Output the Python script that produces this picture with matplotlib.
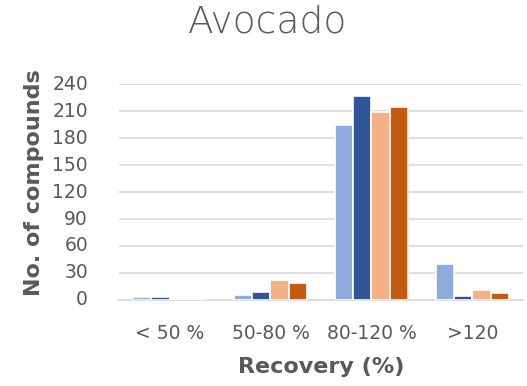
import matplotlib
matplotlib.use("Agg")
import matplotlib.pyplot as plt
import numpy as np

categories = ["< 50 %", "50-80 %", "80-120 %", ">120"]
series_a = [3, 5, 195, 40]
series_b = [3, 9, 227, 4]
series_c = [1, 22, 209, 11]
series_d = [1, 19, 215, 8]
yticks = [0, 30, 60, 90, 120, 150, 180, 210, 240]

colors = ["#8FAADC", "#2F5597", "#F4B183", "#C55A11"]
text_color = "#595959"
plt.rcParams['font.family'] = ['DejaVu Sans']

fig = plt.figure(figsize=(5.27, 3.86), dpi=100)
ax = fig.add_axes([0.226, 0.223, 0.766, 0.559])

x = np.arange(len(categories))
step = 0.182
for i, (vals, c) in enumerate(zip([series_a, series_b, series_c, series_d], colors)):
    ax.bar(x + (i - 1.5) * step, vals, width=step, color=c,
           edgecolor="white", linewidth=1.2, zorder=3)

ax.set_xlim(-0.5, len(categories) - 0.5)
ax.set_ylim(0, 240)
ax.set_yticks(yticks)
ax.set_yticklabels([])
ax.set_xticks(x)
ax.set_xticklabels(categories)
ax.yaxis.grid(True, color="#d9d9d9", linewidth=1.2, zorder=0)
for s in ["top", "right", "left"]:
    ax.spines[s].set_visible(False)
ax.spines["bottom"].set_color("#d9d9d9")
ax.spines["bottom"].set_linewidth(1.2)
ax.xaxis.set_tick_params(length=0, pad=17, labelsize=13.5, labelcolor=text_color)
ax.yaxis.set_tick_params(length=0)

# value labels for the y axis, set well apart from the plot area
ytrans = ax.get_yaxis_transform()
for v in yticks:
    ax.text(-0.077, v, str(v), transform=ytrans, ha="right", va="center",
            fontsize=13.5, color=text_color, clip_on=False)

fig.text(321 / 527, 1 - 367 / 386, "Recovery (%)", ha="center", va="center",
         fontsize=16, fontweight="bold", color=text_color)
fig.text(34 / 527, 1 - 182.5 / 386, "No. of compounds", ha="center", va="center",
         rotation=90, fontsize=16, fontweight="bold", color=text_color)
fig.text(268 / 527, 1 - 22 / 386, "Avocado", ha="center", va="center",
         fontsize=27, color=text_color, fontweight=200)

fig.savefig("out.png", dpi=100)
